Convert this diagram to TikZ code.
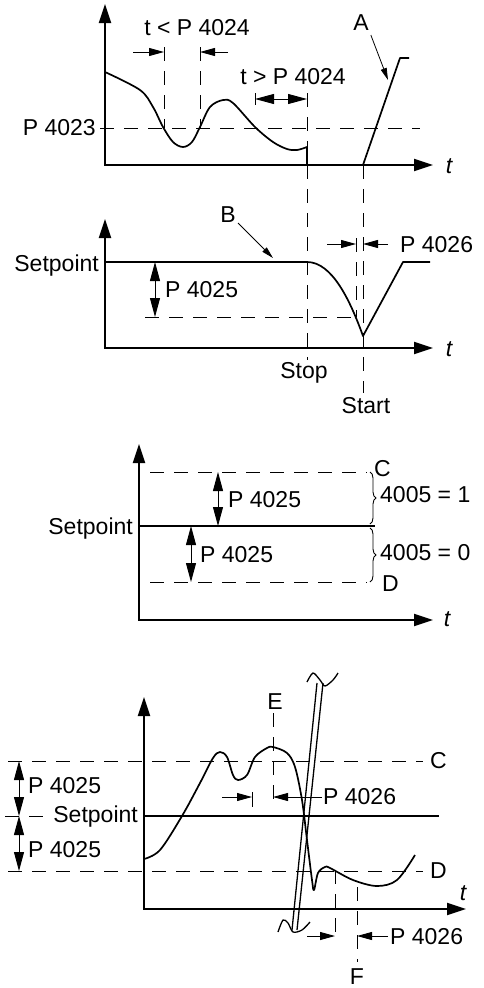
\documentclass[tikz,border=0pt]{standalone}
\usepackage{fontspec}
\setmainfont{Liberation Sans}
\usetikzlibrary{arrows.meta, positioning, decorations.pathreplacing}

\begin{document}
\begin{tikzpicture}[x=1pt, y=-1pt,
  every node/.style={font=\fontsize{23}{27}\selectfont, inner sep=0pt},
  axis/.style={line width=2pt,
               {Triangle[length=19pt,width=12pt]}-{Triangle[length=19pt,width=12pt]}},
  sig/.style={line width=1.7pt, line join=round},
  guide/.style={line width=0.9pt, dash pattern=on 14pt off 10pt},
  dim/.style={line width=0.9pt, -{Triangle[length=15pt,width=8pt]}},
  ddim/.style={line width=0.9pt,
               {Triangle[length=19pt,width=10pt]}-{Triangle[length=19pt,width=10pt]}},
  ptr/.style={line width=0.8pt, -{Triangle[length=12pt,width=6pt]}},
  tlbl/.style={font=\fontsize{23}{27}\selectfont\itshape},
  brc/.style={decorate, decoration={brace, amplitude=6pt}, line width=0.9pt}]

  \useasboundingbox (0,0) rectangle (483,988);

  % Panel 1: sleep level and delay
  \coordinate (ya) at (105,4);
  \coordinate (xa) at (433,165);
  \draw[axis] (ya) |- (xa);
  \node[tlbl] (ta) at (449,166) {t};
  \node[anchor=east] (lvl) at (96,128) {P 4023};
  \draw[guide] (100,128) -- (420,128);
  \draw[sig] plot[smooth, tension=0.55] coordinates {(105,72) (140,90) (153,107) (163,127)
    (173,142) (183,147) (192,142) (200,127) (210,107) (223,100) (233,103) (255,127)
    (273,142) (287,149) (297,150) (307,147)} -- (307,165);
  \draw[sig] (363,165) -- (400,58) -- (409,58);

  % short delay
  \node (dlyS) at (197,28) {t < P 4024};
  \coordinate (s1) at (164,52);
  \coordinate (s2) at (200,52);
  \draw[guide] (164,47) -- (164,128);
  \draw[guide] (200,47) -- (200,128);
  \draw[dim] (133,52) -- (s1);
  \draw[dim] (228,52) -- (s2);

  % long delay
  \node (dlyL) at (293,77) {t > P 4024};
  \coordinate (l1) at (255,99);
  \coordinate (l2) at (307,99);
  \draw[line width=0.9pt] (255,93) -- (255,105);
  \draw[ddim] (l1) -- (l2);

  % wake-up label
  \node (lA) at (361,23) {A};
  \coordinate (pA) at (388,80);
  \draw[ptr] (lA.south east) ++(2,4) -- (pA);

  % Stop / Start guides
  \draw[guide] (307,93) -- (307,360);
  \draw[guide] (363,165) -- (363,393);

  % Panel 2: setpoint and wake-up deviation
  \coordinate (yb) at (105,219);
  \coordinate (xb) at (433,348);
  \draw[axis] (yb) |- (xb);
  \node[tlbl] (tb) at (449,349) {t};
  \node[anchor=east] (spB) at (99,266) {Setpoint};
  \draw[sig] (105,262) -- (307,262) .. controls (332,262) and (350,300) .. (363,336)
    -- (403,262) -- (430,262);
  \draw[guide] (145,317) -- (357,317);
  \coordinate (wu1) at (155,262);
  \coordinate (wu2) at (155,317);
  \draw[ddim] (wu1) -- (wu2);
  \node[anchor=west] (devB) at (165,290) {P 4025};
  \node (lB) at (228,215) {B};
  \coordinate (pB) at (273,258);
  \draw[ptr] (238,223) -- (pB);
  \draw[guide] (356,238) -- (356,317);
  \coordinate (wd1) at (356,244);
  \coordinate (wd2) at (363,244);
  \draw[dim] (327,244) -- (wd1);
  \draw[dim] (388,244) -- (wd2);
  \node[anchor=west] (dlyB) at (400,245) {P 4026};
  \node (stop) at (304,373) {Stop};
  \node (start) at (366,406) {Start};

  % Panel 3: deviation limits
  \coordinate (yc) at (139,444);
  \coordinate (xc) at (433,620);
  \draw[axis] (yc) |- (xc);
  \node[tlbl] (tc) at (447,619) {t};
  \node[anchor=east] (spC) at (133,529) {Setpoint};
  \draw[sig] (139,526) -- (375,526);
  \draw[guide] (150,472) -- (367,472);
  \draw[guide] (150,582) -- (367,582);
  \coordinate (hi1) at (218,472);
  \coordinate (hi2) at (218,526);
  \coordinate (lo1) at (191,526);
  \coordinate (lo2) at (191,582);
  \draw[ddim] (hi1) -- (hi2);
  \draw[ddim] (lo1) -- (lo2);
  \node[anchor=west] (devC1) at (228,500) {P 4025};
  \node[anchor=west] (devC2) at (200,555) {P 4025};
  \draw[brc] (370,472) -- (370,524);
  \draw[brc] (370,528) -- (370,582);
  \node[anchor=west] (selC1) at (380,495) {4005 = 1};
  \node[anchor=west] (selC2) at (380,553) {4005 = 0};
  \node[anchor=west] (lC1) at (374,469) {C};
  \node[anchor=west] (lD1) at (382,584) {D};

  % Panel 4: wake-up inside / outside limits
  \coordinate (yd) at (144,697);
  \coordinate (xd) at (466,909);
  \draw[axis] (yd) |- (xd);
  \node[tlbl] (td) at (463,893) {t};
  \draw[guide] (8,761) -- (423,761);
  \draw[guide] (8,871) -- (423,871);
  \draw[guide] (5,816) -- (48,816);
  \node[anchor=east] (spD) at (138,817) {Setpoint};
  \draw[sig] (144,816) -- (439,816);
  \node[anchor=west] (lC2) at (430,761) {C};
  \node[anchor=west] (lD2) at (430,871) {D};
  \coordinate (dh1) at (19,761);
  \coordinate (dh2) at (19,816);
  \coordinate (dl2) at (19,871);
  \draw[ddim] (dh1) -- (dh2);
  \draw[ddim] (dh2) -- (dl2);
  \node[anchor=west] (devD1) at (28,786) {P 4025};
  \node[anchor=west] (devD2) at (28,850) {P 4025};
  \draw[sig] plot[smooth, tension=0.55] coordinates {(144,859) (160,850) (182,816)
    (200,783) (213,758) (220,752) (227,757) (233,775) (238,780) (247,775) (255,757)
    (267,748) (273,747) (287,753) (295,767) (302,800) (307,840) (312,880) (314,890)
    (318,873) (325,867) (330,868) (353,880) (377,886) (397,880) (415,855)};

  % time break
  \draw[line width=1.3pt] (292,930) -- (317,683);
  \draw[line width=1.3pt] (297,930) -- (323,683);
  \draw[line width=1.3pt] plot[smooth] coordinates {(307,682) (313,673) (320,680) (325,686)
    (333,680) (338,673)};
  \draw[line width=1.3pt] plot[smooth] coordinates {(278,932) (283,920) (288,923) (293,932)
    (302,930) (310,922)};

  % E marker
  \node (lE) at (275,702) {E};
  \draw[guide] (273,713) -- (273,807);
  \draw[line width=0.9pt] (252,792) -- (252,807);
  \coordinate (e1) at (252,797);
  \coordinate (e2) at (273,797);
  \draw[dim] (222,797) -- (e1);
  \draw[dim] (322,797) -- (e2);
  \node[anchor=west] (dlyD1) at (323,797) {P 4026};

  % F marker
  \draw[guide] (335,870) -- (335,942);
  \draw[guide] (357,887) -- (357,962);
  \coordinate (f1) at (335,936);
  \coordinate (f2) at (357,936);
  \draw[dim] (307,936) -- (f1);
  \draw[dim] (388,936) -- (f2);
  \node[anchor=west] (dlyD2) at (390,937) {P 4026};
  \node (lF) at (357,977) {F};

\end{tikzpicture}
\end{document}
